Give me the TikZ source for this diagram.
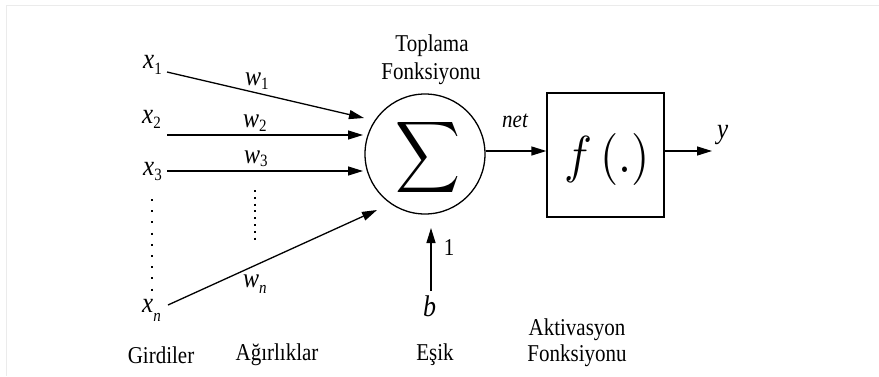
\documentclass[tikz,border=0pt]{standalone}
\usepackage{fontspec}
\usepackage{graphicx}
\setmainfont{Liberation Serif}
\usetikzlibrary{arrows.meta}
\newcommand{\tl}[1]{\scalebox{1}[1.15]{#1}}
\newcommand{\sbs}[2]{\raisebox{-#2}{\fontsize{15}{15}\selectfont #1}}
\begin{document}
\begin{tikzpicture}[x=1pt,y=-1pt,
  lbl/.style={font=\fontsize{21}{25}\selectfont, inner sep=0pt},
  var/.style={font=\fontsize{25}{27}\selectfont\itshape, inner sep=0pt, anchor=base west},
  wvar/.style={font=\fontsize{24}{26}\selectfont\itshape, inner sep=0pt, anchor=base west},
  wire/.style={line width=1.3pt, -{Triangle[length=15pt,width=9pt]}},
  dots/.style={line width=2.4pt, dash pattern=on 2pt off 9.2pt}]
\useasboundingbox (0,0) rectangle (879,376);
\draw[black!8] (6,5) -- (879,5);
\draw[black!8] (6,5) -- (6,376);
% inputs
\node[var] (x1) at (143,68) {\tl{x\sbs{\upshape 1}{6pt}}};
\node[var] (x2) at (142,123) {\tl{x\sbs{\upshape 2}{5pt}}};
\node[var] (x3) at (143,175) {\tl{x\sbs{\upshape 3}{5pt}}};
\node[var] (xn) at (142,312) {\tl{x\sbs{n}{8pt}}};
\coordinate (x1e) at (167,72);
\coordinate (x2e) at (167,135);
\coordinate (x3e) at (167,171);
\coordinate (xne) at (168,305);
% weights
\node[wvar] (w1) at (245,85) {\tl{w\sbs{\upshape 1}{4pt}}};
\node[wvar] (w2) at (243,127) {\tl{w\sbs{\upshape 2}{4pt}}};
\node[wvar] (w3) at (244,163) {\tl{w\sbs{\upshape 3}{3pt}}};
\node[wvar] (wn) at (243,287) {\tl{w\sbs{n}{6pt}}};
% dotted
\coordinate (d1a) at (152,199);
\coordinate (d1b) at (152,292);
\draw[dots] (d1a) -- (d1b);
\coordinate (d2a) at (255,190);
\coordinate (d2b) at (255,242);
\draw[line width=2.4pt, dash pattern=on 2pt off 4.8pt] (d2a) -- (d2b);
% summation
\node[circle, draw, line width=1.3pt, minimum size=120pt, inner sep=0pt] (sum) at (425,154) {};
\node[inner sep=0pt] (sig) at (428,157) {\resizebox*{65pt}{80pt}{$\displaystyle\sum$}};
\node[lbl] (top1) at (432,46) {\tl{Toplama}};
\node[lbl] (top2) at (431,74) {\tl{Fonksiyonu}};
\draw[wire] (x1e) -- (364,118);
\draw[wire] (x2e) -- (363,135);
\draw[wire] (x3e) -- (363,171);
\draw[wire] (xne) -- (377,210);
% activation
\node[draw, line width=1.3pt, minimum width=117pt, minimum height=124pt, inner sep=0pt] (act) at (605.5,155) {};
\node[inner sep=0pt] (f) at (607,159) {\resizebox*{85pt}{52pt}{$f\,(.)$}};
\draw[wire] (sum.east |- 0,151) -- (act.west |- 0,151);
\node[wvar, font=\fontsize{21}{24}\selectfont\itshape] (net) at (502,127) {\tl{net}};
\coordinate (ye) at (712,151);
\draw[wire] (act.east |- ye) -- (ye);
\node[var] (y) at (717,138) {\tl{y}};
% bias
\node[var, font=\fontsize{26}{28}\selectfont\itshape] (b) at (423,316) {\tl{b}};
\coordinate (bs) at (431,291);
\coordinate (bt) at (431,228);
\draw[wire] (bs) -- (bt);
\node[lbl] (one) at (449,248) {\tl{1}};
% bottom labels
\node[lbl] (gird) at (161,355) {\tl{Girdiler}};
\node[lbl] (agir) at (277,355) {\tl{Ağırlıklar}};
\node[lbl] (esik) at (435,355) {\tl{Eşik}};
\node[lbl] (aktv1) at (577,330) {\tl{Aktivasyon}};
\node[lbl] (aktv2) at (577,356) {\tl{Fonksiyonu}};
\end{tikzpicture}
\end{document}
